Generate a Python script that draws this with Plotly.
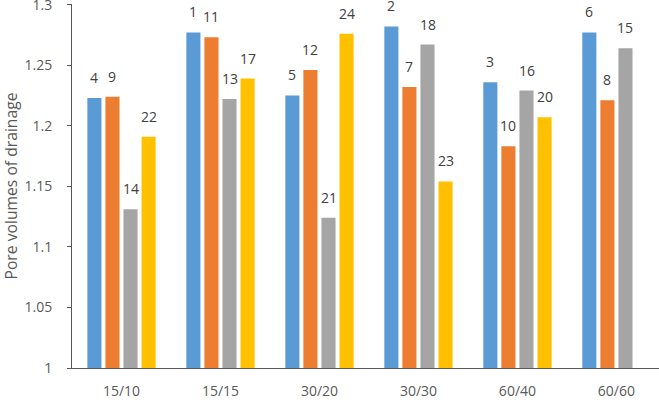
import plotly.graph_objects as go

categories = ["15/10", "15/15", "30/20", "30/30", "60/40", "60/60"]
series_blue = [1.223, 1.277, 1.225, 1.282, 1.236, 1.277]
series_orange = [1.224, 1.273, 1.246, 1.232, 1.183, 1.221]
series_gray = [1.131, 1.222, 1.124, 1.267, 1.229, 1.264]
series_yellow = [1.191, 1.239, 1.276, 1.154, 1.207, None]
labels_blue = ["4", "1", "5", "2", "3", "6"]
labels_orange = ["9", "11", "12", "7", "10", "8"]
labels_gray = ["14", "13", "21", "18", "16", "15"]
labels_yellow = ["22", "17", "24", "23", "20", ""]
y_ticks = [1, 1.05, 1.1, 1.15, 1.2, 1.25, 1.3]
y_tick_text = ["1", "1.05", "1.1", "1.15", "1.2", "1.25", "1.3"]

series = [
    (series_blue, labels_blue, "#5B9BD5"),
    (series_orange, labels_orange, "#ED7D31"),
    (series_gray, labels_gray, "#A5A5A5"),
    (series_yellow, labels_yellow, "#FFC000"),
]

FONT = "Open Sans"
fig = go.Figure()
slot_px = 18.1
for i, (vals, labs, color) in enumerate(series):
    fig.add_trace(go.Bar(x=categories, y=vals, marker=dict(color=color, line=dict(width=0)),
                         showlegend=False))
    for c, v, t in zip(categories, vals, labs):
        if v is None or not t:
            continue
        fig.add_annotation(x=c, y=v, text=t, showarrow=False, xref="x", yref="y",
                           xshift=(i - 1.5) * slot_px, yshift=9, yanchor="bottom",
                           font=dict(family=FONT, size=14, color="#404040"))

fig.update_layout(
    width=659, height=414,
    margin=dict(l=72, r=0, t=4, b=46),
    paper_bgcolor="white", plot_bgcolor="white",
    barmode="group", bargap=0.27, bargroupgap=0.22,
    font=dict(family=FONT, size=14, color="#595959"),
)
fig.update_xaxes(type="category", range=[-0.5, 5.43], showline=True, linecolor="#595959",
                 linewidth=1, ticks="", showgrid=False, ticklabelstandoff=10, automargin=False,
                 tickfont=dict(family=FONT, size=14, color="#595959"))
fig.update_yaxes(range=[1, 1.3005], tickvals=y_ticks, ticktext=y_tick_text, showline=True,
                 linecolor="#595959", linewidth=1, ticks="outside", ticklen=4,
                 tickcolor="#595959", showgrid=False, zeroline=False, ticklabelstandoff=12,
                 ticklabeloverflow="allow", automargin=False,
                 tickfont=dict(family=FONT, size=14, color="#595959"),
                 title=dict(text="Pore volumes of drainage", standoff=6,
                            font=dict(family=FONT, size=15.7, color="#595959")))

fig.write_html("out.html")
